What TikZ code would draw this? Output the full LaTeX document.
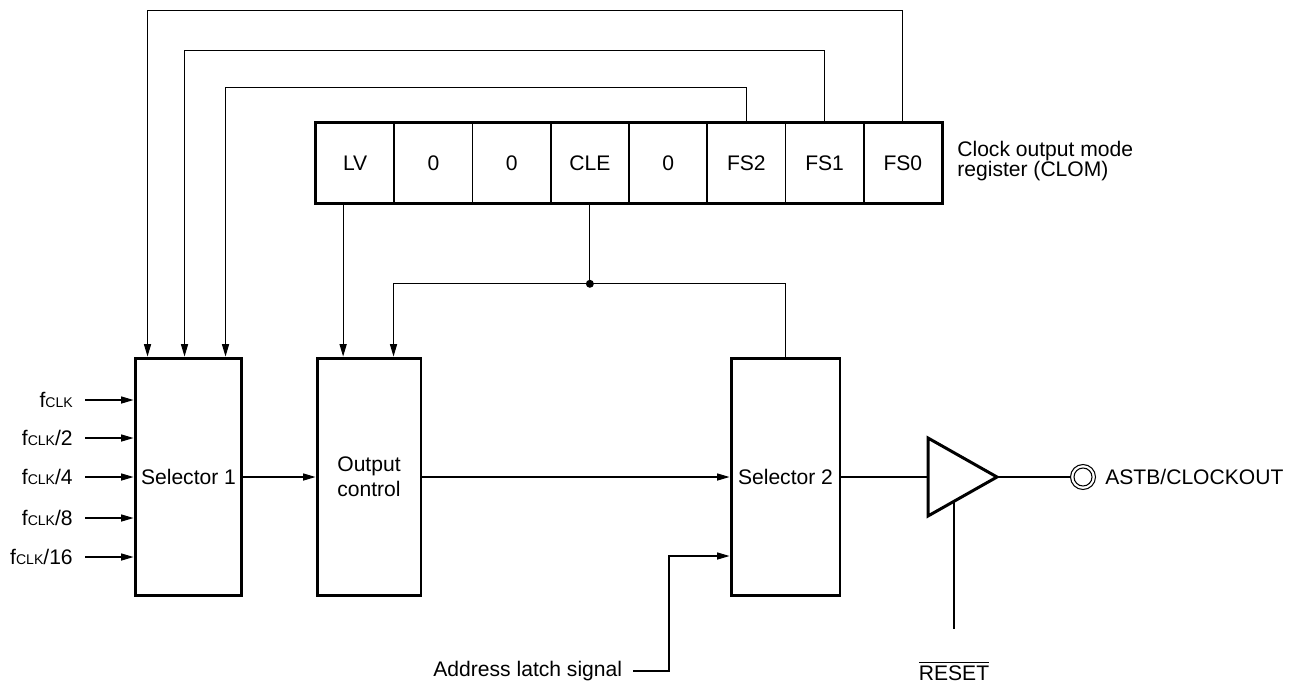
\documentclass[tikz,border=0pt]{standalone}
\usepackage{fontspec}
\setmainfont{Liberation Sans}
\usetikzlibrary{arrows.meta,calc}

\newcommand{\fclk}{f{\fontsize{8}{9}\selectfont CLK}}

\begin{document}
\begin{tikzpicture}[
  x=0.02cm, y=-0.02cm,
  font=\fontsize{12}{14}\selectfont,
  block/.style={draw, line width=1.7pt, minimum height=4.76cm, align=center, inner sep=0pt},
  cell/.style={draw, line width=0.9pt, minimum width=1.565cm, minimum height=1.6cm, inner sep=0pt},
  sig/.style={line width=0.6pt},
  arrow/.style={sig, -{Triangle[length=7pt, width=4pt]}},
  fin/.style={anchor=east, inner sep=0pt, inner xsep=6.8pt}
]
\useasboundingbox (0,0) rectangle (1298,687);

\node[block, minimum width=2.14cm] (sel1) at (188.5,477) {Selector 1};
\node[block, minimum width=2.08cm] (outc) at (369,477) {Output\\control};
\node[block, minimum width=2.18cm] (sel2) at (785.5,477) {Selector 2};

% register CLOM
\foreach \bit [count=\i] in {LV,0,0,CLE,0,FS2,FS1,FS0}
  \node[cell] (r\i) at ({355.125+78.25*(\i-1)},163) {\bit};
\draw[line width=1.7pt] (r1.north west) rectangle (r8.south east);
\node[anchor=west, align=left, inner sep=0pt, font=\fontsize{12}{11.4}\selectfont] (clom) at (957,161) {Clock output mode\\register (CLOM)};

\node[fin] (in1) at (85,400) {\fclk};
\node[fin] (in2) at (85,438) {\fclk/2};
\node[fin] (in3) at (85,477) {\fclk/4};
\node[fin] (in4) at (85,518) {\fclk/8};
\node[fin] (in5) at (85,557) {\fclk/16};
\foreach \i in {1,...,5}
  \draw[arrow] (in\i.east) -- (in\i.east -| sel1.west);

% FS bits to selector 1
\draw[arrow] (r8.north) -- ++(0,-112) -| ($(sel1.north west)+(14,0)$);
\draw[arrow] (r7.north) -- ++(0,-72) -| ($(sel1.north west)+(51,0)$);
\draw[arrow] (r6.north) -- ++(0,-35) -| ($(sel1.north west)+(92,0)$);

\coordinate (lv) at ($(r1.south)+(-12,0)$);
\draw[arrow] (lv) -- (lv |- outc.north);

\coordinate (jn) at ($(r4.south)+(0,80)$);
\draw[sig] (r4.south) -- (jn);
\draw[arrow] (sel2.north) |- (jn) -| ($(outc.north west)+(78,0)$);
\fill (jn) circle (0.08cm);

\draw[arrow] (sel1.east) -- (outc.west);
\draw[arrow] (outc.east) -- (sel2.west);

% output buffer
\coordinate (bufin) at (928,477);
\coordinate (bufout) at (997,477);
\draw[line width=1.7pt] ($(bufin)+(0,-39)$) -- (bufout) -- ($(bufin)+(0,39)$) -- cycle;
\draw[sig] (sel2.east) -- (bufin);

\node[circle, draw, sig, minimum size=0.5cm, inner sep=0pt] (term) at (1083,477) {};
\draw[sig] (term.center) circle (0.18cm);
\draw[sig] (bufout) -- (term.west);
\node[anchor=west, inner sep=0pt] (astb) at (1105,477) {ASTB/CLOCKOUT};

\node[inner sep=0pt] (rst) at (954,671) {$\overline{\mbox{RESET}}$};
\coordinate (rstin) at (954,501);
\draw[sig] (rstin) -- ($(rstin |- rst.north)+(0,-32)$);

\node[anchor=east, inner sep=0pt, inner xsep=6pt] (addr) at (633,671) {Address latch signal};
\draw[arrow] (addr.east) -- ++(36,0) |- ($(sel2.west)+(0,79)$);

\end{tikzpicture}
\end{document}
